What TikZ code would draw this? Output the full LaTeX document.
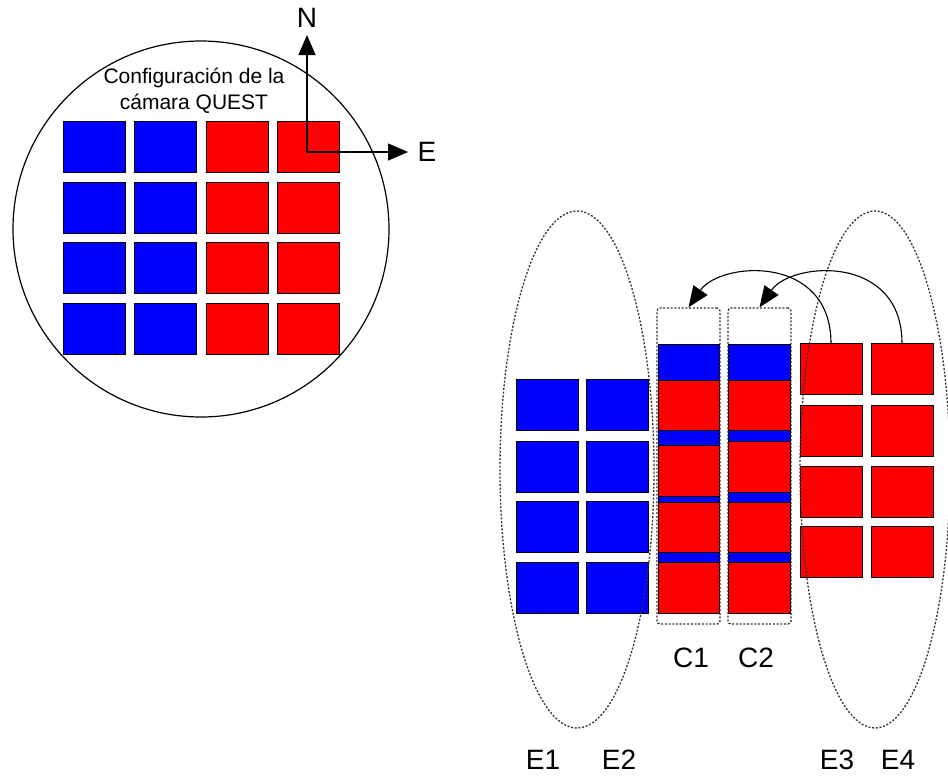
\documentclass[tikz,border=0pt]{standalone}
\usepackage{fontspec}
\setmainfont{Liberation Sans}
\usetikzlibrary{shapes.geometric,arrows.meta}
\begin{document}
\begin{tikzpicture}[x=1pt,y=-1pt,
  sq/.style={draw=black,line width=1pt,minimum width=62pt,minimum height=51pt,inner sep=0pt,outer sep=0pt},
  bsq/.style={sq,fill=blue},
  rsq/.style={sq,fill=red},
  dots/.style={draw=black!80,line width=1.3pt,dash pattern=on 2pt off 1.7pt},
  lbl/.style={font=\fontsize{28}{30}\selectfont,inner sep=0pt},
  arr/.style={line width=1.1pt,-{Triangle[length=21pt,width=17pt]}},
  carr/.style={line width=1.1pt,-{Triangle[length=20pt,width=17pt]}},
]
\fill[white] (0,0) rectangle (948,777);
\useasboundingbox (0,0) rectangle (948,777);

% camera circle
\node[circle,draw,line width=1.2pt,minimum size=376pt,inner sep=0pt] (cam) at (201,229) {};
\node[font=\fontsize{21}{24}\selectfont,anchor=base,inner sep=0pt] (t1) at (194,83) {Configuración de la};
\node[font=\fontsize{21}{24}\selectfont,anchor=base,inner sep=0pt] (t2) at (194,109) {cámara QUEST};

\foreach \r/\y in {1/146.5,2/207.5,3/267.5,4/328.5}{
  \node[bsq] (La\r) at (94,\y) {};
  \node[bsq] (Lb\r) at (165,\y) {};
  \node[rsq] (Lc\r) at (237,\y) {};
  \node[rsq] (Ld\r) at (308,\y) {};
}

% compass
\coordinate (o) at (307,152);
\coordinate (ntip) at (307,35);
\coordinate (etip) at (408,152);
\draw[carr] (o) -- (ntip);
\draw[carr] (o) -- (etip);
\node[lbl] (N) at (307,18) {N};
\node[lbl] (E) at (427,152) {E};

% E1 E2 blue
\foreach \r/\y in {1/405,2/466.5,3/526.5,4/587.5}{
  \node[bsq] (Ra\r) at (547,\y) {};
  \node[bsq] (Rb\r) at (617.5,\y) {};
}
% E3 E4 red
\foreach \r/\y in {1/369,2/430.5,3/491.5,4/552}{
  \node[rsq] (Rc\r) at (831,\y) {};
  \node[rsq] (Rd\r) at (902,\y) {};
}

% C1 column
\node[sq,fill=blue,minimum width=61pt,minimum height=269pt] (c1col) at (688.5,478.5) {};
\node[rsq,minimum width=61pt,minimum height=50pt] (c1r1) at (688.5,405) {};
\node[rsq,minimum width=61pt,minimum height=51pt] (c1r2) at (688.5,470.5) {};
\node[rsq,minimum width=61pt,minimum height=50pt] (c1r3) at (688.5,527) {};
\node[rsq,minimum width=61pt,minimum height=51pt] (c1r4) at (688.5,587.5) {};
% C2 column
\node[sq,fill=blue,minimum width=62pt,minimum height=269pt] (c2col) at (759,478.5) {};
\node[rsq,minimum width=62pt,minimum height=50pt] (c2r1) at (759,405) {};
\node[rsq,minimum width=62pt,minimum height=51pt] (c2r2) at (759,466.5) {};
\node[rsq,minimum width=62pt,minimum height=50pt] (c2r3) at (759,527) {};
\node[rsq,minimum width=62pt,minimum height=51pt] (c2r4) at (759,587.5) {};

% dotted boxes
\node[dots,rounded corners=3pt,minimum width=63pt,minimum height=316pt,inner sep=0pt] (c1box) at (688.5,466) {};
\node[dots,rounded corners=3pt,minimum width=63pt,minimum height=316pt,inner sep=0pt] (c2box) at (759.5,466) {};

% ellipses
\node[ellipse,dots,minimum width=154pt,minimum height=517pt,inner sep=0pt] (g12) at (577,469.5) {};
\node[ellipse,dots,minimum width=150pt,minimum height=517pt,inner sep=0pt] (g34) at (875,469.5) {};

% arrows
\draw[arr] (Rc1.north) .. controls +(0,-90) and +(32,-46) .. (c1box.north);
\draw[arr] (Rd1.north) .. controls +(0,-90) and +(32,-46) .. (c2box.north);

% labels
\node[lbl] (C1) at (691,658) {C1};
\node[lbl] (C2) at (756,658) {C2};
\node[lbl] (E1) at (543,760) {E1};
\node[lbl] (E2) at (619,760) {E2};
\node[lbl] (E3) at (837,760) {E3};
\node[lbl] (E4) at (898,760) {E4};
\end{tikzpicture}
\end{document}
